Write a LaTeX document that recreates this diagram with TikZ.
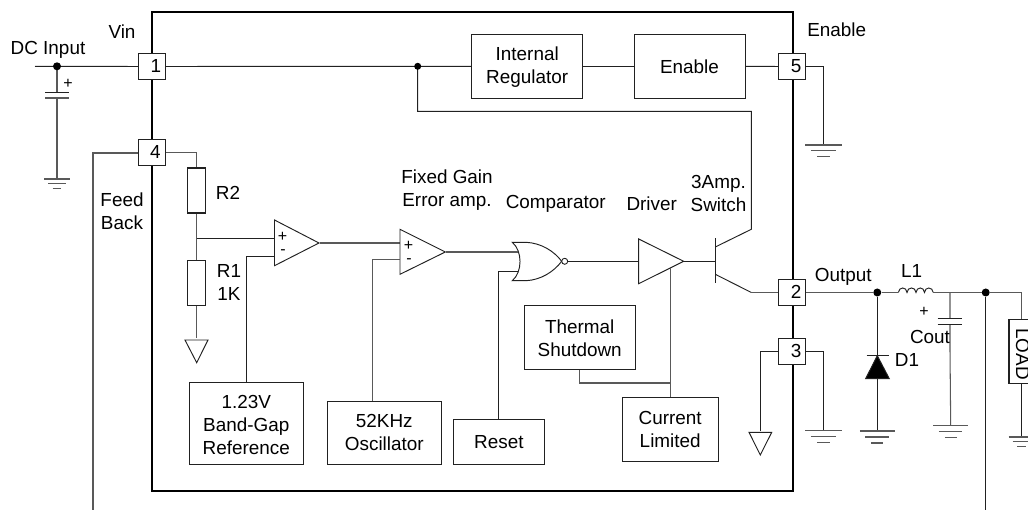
\documentclass[tikz,border=0pt]{standalone}
\usepackage{fontspec}
\setmainfont{Liberation Sans}
\usetikzlibrary{calc}
\definecolor{wirecol}{gray}{0.13}
\definecolor{softcol}{gray}{0.35}
\tikzset{
  wire/.style={draw=wirecol,line width=0.95pt,line join=miter},
  soft/.style={draw=softcol,line width=1.05pt},
  chip/.style={draw=black,line width=2.4pt},
  block/.style={draw=wirecol,line width=0.95pt,fill=white,inner sep=0pt,align=center,
     font=\fontsize{18.9}{23}\selectfont},
  pinbox/.style={draw=wirecol,line width=0.95pt,fill=white,minimum width=26.5pt,minimum height=26.5pt,inner sep=0pt},
  lab/.style={inner sep=0pt,align=center,font=\fontsize{18.9}{23}\selectfont},
  small/.style={inner sep=0pt,font=\fontsize{16}{16}\selectfont},
  dot/.style={circle,fill=black,inner sep=0pt,minimum size=#1},
  res/.style={draw=wirecol,line width=1.1pt,fill=white,minimum width=18pt,minimum height=45pt,inner sep=0pt},
  tri/.style={draw=wirecol,line width=0.95pt,fill=white,line join=miter},
}
\newcommand{\gndmark}[3]{\draw[soft] (#1) ++(-#2,0) -- ++(2*#2,0) (#1) ++(-0.68*#2,#3) -- ++(1.36*#2,0) (#1) ++(-0.34*#2,2*#3) -- ++(0.68*#2,0);}
\begin{document}
\begin{tikzpicture}[x=1pt,y=-1pt]
\useasboundingbox (0,0) rectangle (1028,510);
\clip (0,0) rectangle (1028,510);
% chip outline
\draw[chip] (152,12) rectangle (793,491);
% coordinates
\coordinate (dcl) at (35,66.3);
\coordinate (g0) at (57,179);
\coordinate (fb) at (93,510);
\coordinate (fbc) at (93,153);
\coordinate (j2) at (196.7,238.5);
\coordinate (tg1) at (196.7,338);
\coordinate (g5) at (823.3,145);
\coordinate (g3) at (823.3,430.7);
\coordinate (tg3) at (760.3,431);
\coordinate (g2) at (877.3,431);
\coordinate (gc) at (950.7,425.7);
\coordinate (gl) at (1021.5,437);
\coordinate (outb) at (985.7,510);
\coordinate (loadt) at (1021.3,292.5);
\coordinate (c1) at (751.3,111.3);
\coordinate (c2) at (751.3,229.3);
\coordinate (e1) at (751.3,292.5);
% nodes
\node[pinbox] (p1) at (152,66.5) {};
\node[pinbox] (p4) at (152,152.5) {};
\node[pinbox] (p5) at (792,66.5) {};
\node[pinbox] (p2) at (792,292.5) {};
\node[pinbox] (p3) at (792,351.5) {};
\node[lab] at (156,66.5) {1};
\node[lab] at (155.5,152.5) {4};
\node[lab] at (796,66) {5};
\node[lab] at (796,291.5) {2};
\node[lab] at (796,351) {3};
\node[block,minimum width=111pt,minimum height=64pt] (reg) at (527.2,66.3) {};
\node[lab] at (527.2,67.5) {Internal\\Regulator};
\node[block,minimum width=111pt,minimum height=64pt] (en) at (689.5,66.3) {Enable};
\node[block,minimum width=114pt,minimum height=81.6pt] (ref) at (246.3,423.5) {};
\node[lab] at (246.3,424.7) {1.23V\\Band-Gap\\Reference};
\node[block,minimum width=114pt,minimum height=63pt] (osc) at (384.3,432.8) {52KHz\\Oscillator};
\node[block,minimum width=90.3pt,minimum height=45pt] (rst) at (498.9,441.8) {Reset};
\node[block,minimum width=111.3pt,minimum height=63.7pt] (th) at (579.7,337.8) {Thermal\\Shutdown};
\node[block,minimum width=95.7pt,minimum height=63.7pt] (cur) at (670.2,429.2) {Current\\Limited};
\node[res] (r2) at (196.7,190.5) {};
\node[res] (r1) at (196.7,283.3) {};
\node[block,minimum width=30pt,minimum height=63.7pt,anchor=west,line width=1.2pt] (load) at (1008.3,351.4) {};
\node[lab,rotate=-90] at (1022.5,354) {LOAD};
% wires
\draw[wire] (dcl) -- (p1.west);
\draw[soft] (57,66.3) -- (57,92.3) (57,98) -- (g0);
\draw[wire] (45,92.3) -- (69,92.3);
\draw[soft] (45,98) -- (69,98);
\gndmark{g0}{13}{4.7}
\draw[wire] (p1.east) -- (reg.west);
\draw[wire] (reg.east) -- (en.west);
\draw[wire] (en.east) -- (p5.west);
\draw[wire] (p5.east) -- (g5 |- p5.east) -- (g5);
\gndmark{g5}{18.3}{5.8}
\draw[soft] (p4.west |- fbc) -- (fbc) -- (fb);
\draw[soft] (p4.east) -- (r2.north |- p4.east) -- (r2.north);
\draw[soft] (r2.south) -- (r1.north);
\draw[soft] (r1.south) -- (tg1);
\draw[tri] (185,340) -- (208,340) -- (196.7,362.7) -- cycle;
% amp 1
\node[inner sep=0pt] (a1) at (319,243) {};
\draw[tri] (274.5,220) -- (319,243) -- (274.5,265.7) -- cycle;
\node[small] at (282.5,236.5) {+};
\node[small] at (283,252.5) {-};
\draw[wire] (j2) -- (274.5,238.5);
\draw[wire] (ref.north) -- (ref.north |- 0,256.3) -- (274.5,256.3);
% amp 2
\node[inner sep=0pt] (a2) at (445.3,252) {};
\draw[soft] (a1) -- (400,243);
\draw[tri] (400,229.3) -- (445.3,252) -- (400,274.3) -- cycle;
\node[small] at (408.5,245.5) {+};
\node[small] at (409,261.5) {-};
\draw[soft] (osc.north -| 372.7,0) -- (372.7,259.7) -- (400,259.7);
% NOR
\coordinate (norb) at (564.7,261.3);
\draw[wire,fill=white] (512.3,242.3) -- (526,242.3) .. controls (541,243) and (554,251) .. (561.7,261.3)
   .. controls (554,271.5) and (541,280) .. (526,280.7) -- (512.3,280.7)
   .. controls (522.6,272) and (522.6,251) .. (512.3,242.3) -- cycle;
\draw[soft] (a2) -- (518.3,252);
\draw[wire] (rst.north) -- (rst.north |- 0,271.3) -- (518,271.3);
\node[circle,draw=wirecol,line width=0.9pt,fill=white,minimum size=6pt,inner sep=0pt] (bub) at (norb) {};
% driver
\node[inner sep=0pt] (d1) at (683.7,261.3) {};
\draw[wire] (bub) -- (638.7,261.3);
\draw[tri] (638.7,239) -- (683.7,261.3) -- (638.7,283.7) -- cycle;
\draw[wire] (d1) -- (715.3,261.3);
\draw[soft] (cur.north) -- (670.2,268.3);
\draw[soft] (th.south) -- (th.south |- 0,383) -- (670.2,383);
% transistor
\draw[wire] (715.3,238.3) -- (715.3,283);
\draw[wire] (715.3,247) -- (c2) -- (c1) -- (417.7,111.3) -- (417.7,66.3);
\draw[wire] (715.3,274.3) -- (e1);
\draw[soft] (e1) -- (p2.west);
% pin 3
\draw[wire] (p3.west) -- (tg3 |- p3.west) -- (tg3);
\draw[tri] (749,432.3) -- (771.7,432.3) -- (760.3,455) -- cycle;
\draw[wire] (p3.east) -- (g3 |- p3.east) -- (g3);
\gndmark{g3}{18.3}{6}
% output
\node[dot=8pt] (dot1) at (57,66.3) {};
\node[dot=7pt] (dot2) at (417.7,66.3) {};
\node[dot=8pt] (dot3) at (877.3,292.5) {};
\node[dot=8pt] (dot4) at (985.7,292.5) {};
\coordinate (l1a) at (898.3,292.5);
\coordinate (l1b) at (933.3,292.5);
\draw[soft] (p2.east) -- (dot3) -- (l1a);
\draw[wire] (l1a) .. controls (899,286.5) and (906.5,286.5) .. (907,292.5)
  .. controls (907.5,286.5) and (915.5,286.5) .. (916,292.5)
  .. controls (916.5,286.5) and (924,286.5) .. (924.5,292.5)
  .. controls (925,286.5) and (932.5,286.5) .. (l1b);
\draw[soft] (l1b) -- (dot4) -- (loadt) -- (load.north -| loadt);
\draw[wire] (dot4) -- (outb);
% diode
\draw[wire] (dot3) -- (g2);
\draw[wire] (866.7,355.7) -- (889,355.7);
\draw[wire,fill=black] (877.3,355.7) -- (889.3,378.7) -- (865.6,378.7) -- cycle;
\gndmark{g2}{17.5}{6}
% output cap
\draw[soft] (950,292.5) -- (950,318.3) (950,324.3) -- (950,350.7) -- (gc);
\draw[wire] (937.7,318.3) -- (961.7,318.3) (937.7,324.3) -- (961.7,324.3);
\gndmark{gc}{17.3}{5.8}
% load ground
\draw[wire] (load.south -| gl) -- (gl);
\gndmark{gl}{13}{4.7}
% labels
\node[lab] at (122,32) {Vin};
\node[lab] at (48,49.5) {DC Input};
\node[small] at (68,84) {+};
\node[lab] at (122,211.5) {Feed\\Back};
\node[lab] at (228,192.5) {R2};
\node[lab] at (229,282.5) {R1\\1K};
\node[lab] at (447,190) {Fixed Gain\\Error amp.};
\node[lab] at (555.7,203.5) {Comparator};
\node[lab] at (651.7,204) {Driver};
\node[lab] at (718.5,193) {3Amp.\\Switch};
\node[lab] at (836.7,29.5) {Enable};
\node[lab] at (843.3,276.5) {Output};
\node[lab] at (911.7,270.7) {L1};
\node[small] at (924,312) {+};
\node[lab] at (930,337) {Cout};
\node[lab,anchor=west] at (894.7,360) {D1};
\end{tikzpicture}
\end{document}
